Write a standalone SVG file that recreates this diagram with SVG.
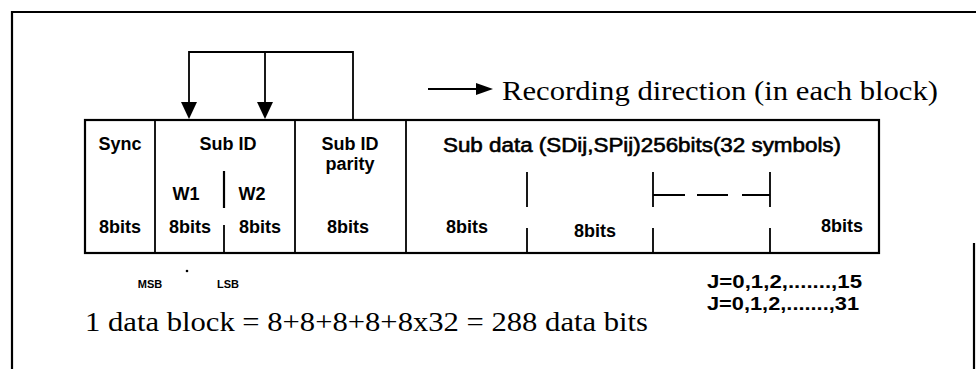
<svg xmlns="http://www.w3.org/2000/svg" width="976" height="369" viewBox="0 0 976 369">
  <style>
    .ln { stroke: #000; fill: none; stroke-width: 2.2; }
    .thin { stroke: #000; fill: none; stroke-width: 1.8; }
    .serif { font-family: "Liberation Serif", "Times New Roman", serif; font-size: 27px; fill: #000; }
    .sans { font-family: "Liberation Sans", Arial, sans-serif; font-size: 18px; font-weight: bold; fill: #000; text-anchor: middle; }
    .reg { font-family: "Liberation Sans", Arial, sans-serif; font-size: 20px; fill: #000; stroke: #000; stroke-width: 0.6; }
    .small { font-family: "Liberation Sans", Arial, sans-serif; font-size: 11px; font-weight: bold; fill: #000; text-anchor: middle; }
  </style>
  <rect width="976" height="369" fill="#fff"/>

  <g id="frame">
    <path class="ln" d="M12,369 V12 H976" stroke-width="3"/>
    <path class="ln" d="M974,243 V369" stroke-width="2.5"/>
  </g>

  <g id="connectors">
    <path class="thin" d="M189,102 V52 H353 V120"/>
    <path class="thin" d="M265,52 V102"/>
    <path d="M181,102 L197,102 L189,119 Z" fill="#000"/>
    <path d="M257,102 L273,102 L265,119 Z" fill="#000"/>
    <path class="ln" d="M428,89 H478"/>
    <path d="M476,83 L493,89 L476,95 Z" fill="#000"/>
  </g>

  <g id="legend">
    <text class="serif" x="502" y="100" textLength="436" lengthAdjust="spacingAndGlyphs">Recording direction (in each block)</text>
  </g>

  <g id="block">
    <rect class="ln" x="85" y="120" width="794" height="133" stroke-width="2.5"/>
  </g>

  <g id="sync">
    <line class="thin" x1="155" y1="120" x2="155" y2="253"/>
    <text class="sans" x="120" y="150">Sync</text>
    <text class="sans" x="120" y="233">8bits</text>
  </g>

  <g id="subid">
    <text class="sans" x="228" y="150">Sub ID</text>
    <line class="ln" x1="224" y1="171" x2="224" y2="208" stroke-width="3"/>
    <line class="thin" x1="224" y1="225" x2="224" y2="253"/>
    <text class="sans" x="186" y="200">W1</text>
    <text class="sans" x="252" y="200">W2</text>
    <text class="sans" x="190" y="233">8bits</text>
    <text class="sans" x="260" y="233">8bits</text>
  </g>

  <g id="parity">
    <line class="thin" x1="295" y1="120" x2="295" y2="253"/>
    <text class="sans" x="350" y="150">Sub ID</text>
    <text class="sans" x="350" y="170">parity</text>
    <text class="sans" x="348" y="233">8bits</text>
  </g>

  <g id="subdata">
    <line class="thin" x1="406" y1="120" x2="406" y2="253"/>
    <text class="reg" x="443" y="152" textLength="398" lengthAdjust="spacingAndGlyphs">Sub data (SDij,SPij)256bits(32 symbols)</text>
    <path class="thin" d="M527,172 V207 M527,228 V253"/>
    <path class="thin" d="M653,172 V207 M653,228 V253"/>
    <path class="thin" d="M770,172 V207 M770,228 V253"/>
    <path class="ln" d="M653,195 H685 M697,195 H728 M742,195 H770"/>
    <text class="sans" x="467" y="233">8bits</text>
    <text class="sans" x="595" y="237">8bits</text>
    <text class="sans" x="842" y="232">8bits</text>
  </g>

  <g id="notes">
    <circle cx="187" cy="271" r="1.3" fill="#000"/>
    <text class="small" x="150" y="288">MSB</text>
    <text class="small" x="228" y="288">LSB</text>
    <text class="sans" x="707" y="288" style="text-anchor:start" textLength="155" lengthAdjust="spacingAndGlyphs">J=0,1,2,.......,15</text>
    <text class="sans" x="707" y="310" style="text-anchor:start" textLength="152" lengthAdjust="spacingAndGlyphs">J=0,1,2,.......,31</text>
    <text class="serif" x="85" y="331" textLength="563" lengthAdjust="spacingAndGlyphs">1 data block = 8+8+8+8+8x32 = 288 data bits</text>
  </g>
</svg>
